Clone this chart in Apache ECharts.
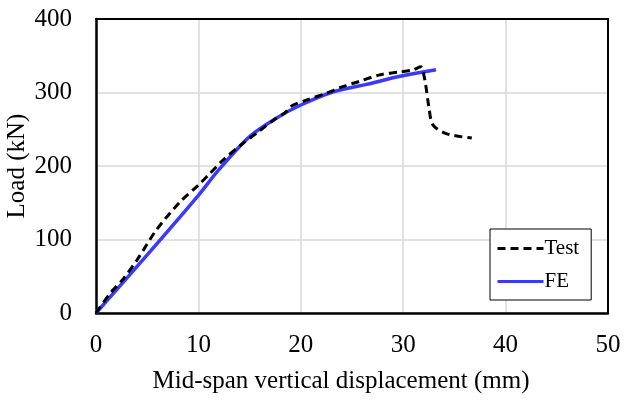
<!DOCTYPE html>
<html>
<head>
<meta charset="utf-8">
<script src="https://cdn.jsdelivr.net/npm/echarts@6/dist/echarts.min.js"></script>
<style>html,body{margin:0;padding:0;background:#fff}#c{width:625px;height:403px}</style>
</head>
<body>
<div id="c"></div>
<script>
const testX = [0, 1.4, 2.7, 4.0, 5.9, 8.2, 10.0, 11.0, 12.4, 14.1, 15.9, 17.3, 18.5, 19.0, 20.6, 22.5, 24.1, 25.7, 27.7, 29.7, 31.0, 31.7, 32.1, 32.5, 32.9, 34.2, 36.7];
const testY = [0, 27, 47, 72, 113, 151, 174, 188, 208, 228, 247, 262, 273, 281, 290, 299, 308, 315, 324, 328, 331, 335, 318, 281, 256, 244, 238];
const feX = [0, 5, 10, 12, 15, 17.6, 20, 23.2, 26.4, 29.7, 33.2];
const feY = [0, 79, 160, 195, 240, 265, 283, 301, 311, 322, 331];
const xTicks = [0, 10, 20, 30, 40, 50];
const yTicks = [0, 100, 200, 300, 400];

const font = '"Liberation Serif", "Times New Roman", serif';
const chart = echarts.init(document.getElementById('c'), null, {renderer: 'canvas'});
const hidden = {show: false};
chart.setOption({
  animation: false,
  backgroundColor: '#fff',
  grid: {left: 96, right: 17, top: 19, bottom: 90, containLabel: false, outerBoundsMode: 'none'},
  xAxis: [{
    type: 'value', min: xTicks[0], max: xTicks[xTicks.length - 1], interval: 10,
    name: 'Mid-span vertical displacement (mm)', nameLocation: 'middle', nameGap: 56,
    nameMoveOverlap: false,
    nameTextStyle: {fontFamily: font, fontSize: 25, color: '#000', padding: [0, 22, 0, 0]},
    axisLine: {lineStyle: {color: '#000', width: 2.5}},
    axisTick: hidden,
    axisLabel: {fontFamily: font, fontSize: 25, color: '#000', margin: 20},
    splitLine: {show: true, lineStyle: {color: '#d9d9d9', width: 1.5}}
  }, {
    type: 'value', position: 'top', min: xTicks[0], max: xTicks[xTicks.length - 1],
    axisLine: {show: true, onZero: false, lineStyle: {color: '#000', width: 2}},
    axisTick: hidden, axisLabel: hidden, splitLine: hidden
  }],
  yAxis: [{
    type: 'value', min: yTicks[0], max: yTicks[yTicks.length - 1], interval: 100,
    name: 'Load (kN)', nameLocation: 'middle', nameGap: 66,
    nameMoveOverlap: false,
    nameTextStyle: {fontFamily: font, fontSize: 25, color: '#000'},
    axisLine: {show: true, onZero: false, lineStyle: {color: '#000', width: 2.5}},
    axisTick: hidden,
    axisLabel: {fontFamily: font, fontSize: 25, color: '#000', margin: 24},
    splitLine: {show: true, lineStyle: {color: '#d9d9d9', width: 1.5}}
  }, {
    type: 'value', position: 'right', min: yTicks[0], max: yTicks[yTicks.length - 1],
    axisLine: {show: true, onZero: false, lineStyle: {color: '#000', width: 2}},
    axisTick: hidden, axisLabel: hidden, splitLine: hidden
  }],
  legend: {
    orient: 'vertical', left: 490, top: 229,
    backgroundColor: '#fff', borderColor: '#000', borderWidth: 1,
    padding: [9, 12, 8, 6], itemGap: 12, itemWidth: 46, itemHeight: 16,
    itemStyle: {opacity: 0},
    lineStyle: {width: 3},
    textStyle: {fontFamily: font, fontSize: 21, color: '#000', padding: [0, 0, 0, -4]},
    data: ['Test', 'FE']
  },
  series: [
    {
      name: 'Test', type: 'line', symbol: 'none', smooth: 0.3,
      data: testX.map((x, i) => [x, testY[i]]),
      lineStyle: {color: '#000', width: 3, type: [8, 5]},
      itemStyle: {color: '#000'}, z: 3
    },
    {
      name: 'FE', type: 'line', symbol: 'none', smooth: 0.3,
      data: feX.map((x, i) => [x, feY[i]]),
      lineStyle: {color: '#3a3aff', width: 3.5},
      itemStyle: {color: '#3a3aff'}, z: 2
    }
  ]
});
</script>
</body>
</html>
